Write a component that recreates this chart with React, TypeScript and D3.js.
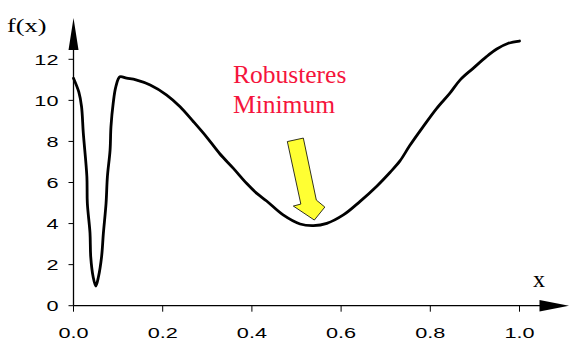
import React from "react";
import * as d3 from "d3";

const xValues = [0, 0.012, 0.018, 0.022, 0.03, 0.031, 0.037, 0.0386, 0.044, 0.05, 0.056, 0.063, 0.067, 0.073, 0.076, 0.082, 0.084, 0.089, 0.095, 0.104, 0.119, 0.14, 0.172, 0.209, 0.239, 0.269, 0.299, 0.328, 0.358, 0.388, 0.411, 0.433, 0.47, 0.508, 0.538, 0.568, 0.605, 0.642, 0.68, 0.71, 0.732, 0.754, 0.784, 0.814, 0.844, 0.867, 0.896, 0.926, 0.949, 0.975, 1.0];
const fValues = [11.08, 10.4, 9.7, 8.4, 6.28, 5.0, 3.54, 2.39, 1.41, 0.96, 1.41, 2.39, 3.53, 4.99, 6.28, 7.58, 8.72, 9.86, 10.67, 11.15, 11.08, 11.0, 10.75, 10.26, 9.69, 8.96, 8.2, 7.4, 6.7, 5.96, 5.47, 5.1, 4.42, 3.98, 3.9, 4.01, 4.42, 5.07, 5.82, 6.5, 7.05, 7.8, 8.72, 9.6, 10.35, 11.0, 11.56, 12.13, 12.5, 12.78, 12.89];
const xTicks = [0, 0.2, 0.4, 0.6, 0.8, 1.0];
const yTicks = [0, 2, 4, 6, 8, 10, 12];
const annotationLines = ["Robusteres", "Minimum"];

const W = 569;
const H = 343;

export default function App() {
  const x = d3.scaleLinear().domain([0, 1]).range([73.5, 519.5]);
  const y = d3.scaleLinear().domain([0, 12]).range([305.7, 59.3]);
  const pts: [number, number][] = xValues.map((v, i) => [v, fValues[i]]);
  const line = d3
    .line<[number, number]>()
    .x((d) => x(d[0]))
    .y((d) => y(d[1]))
    .curve(d3.curveCatmullRom.alpha(0.5));

  const x0 = x(0);
  const y0 = y(0);
  const sans = "'Liberation Sans', Arial, sans-serif";
  const serif = "'Liberation Serif', 'Times New Roman', serif";

  // arrow pointing at the robust minimum
  const tipX = x(0.54);
  const tipY = y(4.17);
  const arrowOffsets = [
    [-27, -78.5],
    [-11, -82],
    [2, -20],
    [10.5, -13],
    [0, 0],
    [-21, -14],
    [-13.5, -16],
  ];
  const arrowPts = arrowOffsets.map(([dx, dy]) => `${tipX + dx},${tipY + dy}`).join(" ");

  return (
    <svg width={W} height={H} style={{ position: "absolute", left: 0, top: 0, background: "#fff" }}>
      {/* axes */}
      <line x1={x0} x2={540} y1={y0} y2={y0} stroke="#000" strokeWidth={1.3} />
      <polygon points={`539.5,${y0 - 5.7} 569,${y0} 539.5,${y0 + 5.7}`} fill="#000" />
      <line x1={x0} x2={x0} y1={y0} y2={50} stroke="#000" strokeWidth={1.3} />
      <polygon points={`${x0 - 5},50 ${x0},18 ${x0 + 5},50`} fill="#000" />

      {xTicks.map((t) => (
        <g key={"x" + t}>
          <line x1={x(t)} x2={x(t)} y1={y0} y2={y0 + 6} stroke="#000" strokeWidth={1} />
          <text
            transform={`translate(${x(t)},338) scale(1.4,1)`}
            textAnchor="middle"
            fontFamily={sans}
            fontSize={15.5}
            fill="#000"
          >
            {t.toFixed(1)}
          </text>
        </g>
      ))}
      {yTicks.map((t) => (
        <g key={"y" + t}>
          <line x1={x0 - 5} x2={x0} y1={y(t)} y2={y(t)} stroke="#000" strokeWidth={1} />
          <text
            transform={`translate(58.5,${y(t) + 5.5}) scale(1.4,1)`}
            textAnchor="end"
            fontFamily={sans}
            fontSize={15.5}
            fill="#000"
          >
            {t}
          </text>
        </g>
      ))}

      <text transform="translate(7,32) scale(1.35,1)" fontFamily={serif} fontSize={19.5} fill="#000">
        f(x)
      </text>
      <text x={533} y={287} fontFamily={serif} fontSize={24} fill="#000">
        x
      </text>

      <path d={line(pts) || ""} fill="none" stroke="#000" strokeWidth={2.8} strokeLinejoin="round" strokeLinecap="round" />

      <polygon points={arrowPts} fill="#ffff33" stroke="#000" strokeWidth={0.8} strokeLinejoin="miter" />

      {annotationLines.map((s, i) => (
        <text key={s} x={233} y={82.5 + i * 30.5} fontFamily={serif} fontSize={25.5} fill="#f5143c">
          {s}
        </text>
      ))}
    </svg>
  );
}
